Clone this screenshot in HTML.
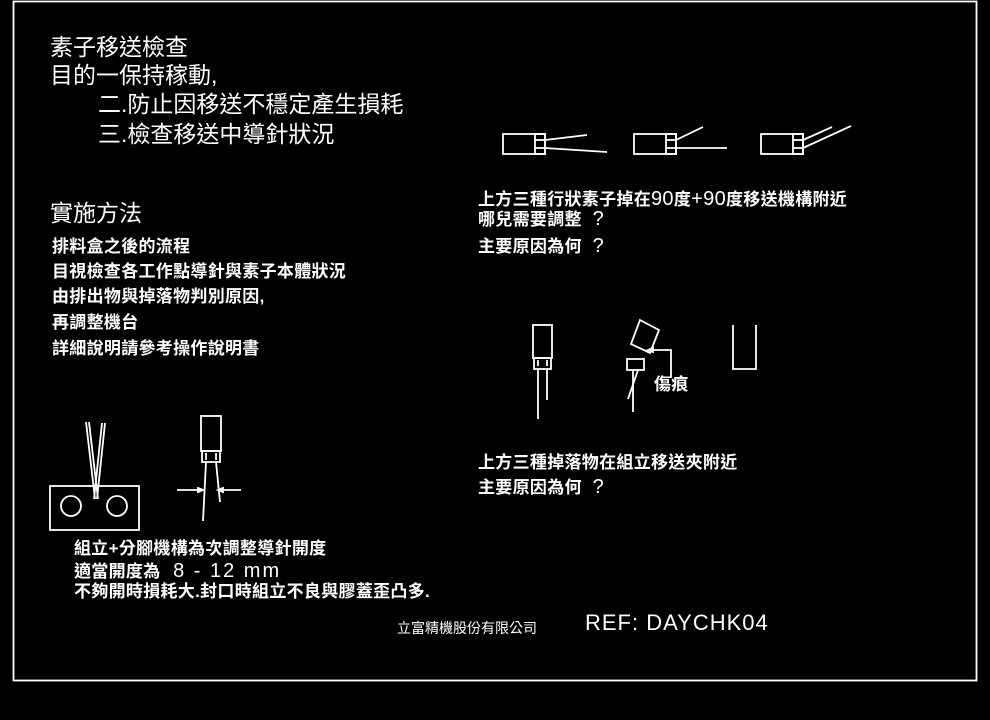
<!DOCTYPE html>
<html><head><meta charset="utf-8"><style>
html,body{margin:0;padding:0;background:#000;}
body{width:990px;height:720px;position:relative;overflow:hidden;font-family:"Liberation Sans","Noto Sans CJK TC","WenQuanYi Zen Hei",sans-serif;color:#fff;}
.t{position:absolute;white-space:nowrap;line-height:1;}
.b{font-size:23px;}
.s{font-size:17px;font-weight:bold;letter-spacing:0.3px;}
.n{font-weight:normal;font-size:20px;}
</style></head><body>
<svg width="990" height="720" style="position:absolute;left:0;top:0" fill="none" stroke="#fff" stroke-width="1.8">
<rect x="13.5" y="1.5" width="963" height="679"/>
<g>
<rect x="503" y="134" width="42" height="20"/><rect x="535" y="134" width="10" height="20"/>
<line x1="535" y1="140" x2="545" y2="140"/><line x1="535" y1="148" x2="545" y2="148"/>
<line x1="545" y1="140" x2="587" y2="135"/><line x1="545" y1="148" x2="607" y2="152"/>
<rect x="634" y="134" width="42" height="20"/><rect x="666" y="134" width="10" height="20"/>
<line x1="666" y1="140" x2="676" y2="140"/><line x1="666" y1="148" x2="676" y2="148"/>
<line x1="676" y1="140" x2="703" y2="127"/><line x1="676" y1="148" x2="727" y2="148"/>
<rect x="761" y="134" width="42" height="20"/><rect x="793" y="134" width="10" height="20"/>
<line x1="793" y1="140" x2="803" y2="140"/><line x1="793" y1="148" x2="803" y2="148"/>
<line x1="803" y1="140" x2="832" y2="127"/><line x1="803" y1="148" x2="851" y2="126"/>
</g>
<rect x="533" y="325" width="19" height="33"/><rect x="534" y="358" width="17" height="11"/>
<line x1="538" y1="360" x2="538" y2="366"/><line x1="547" y1="360" x2="547" y2="366"/>
<line x1="538" y1="369" x2="538" y2="419"/><line x1="547" y1="369" x2="547" y2="400"/>
<polygon points="640,320 659,330 650,353 631,344"/>
<rect x="627" y="359" width="17" height="11"/>
<line x1="638" y1="370" x2="628" y2="399"/><line x1="633" y1="370" x2="633" y2="412"/>
<polyline points="648,350 671,350 671,378"/>
<path d="M648,350 l5,-2 v4z" fill="#fff"/>
<polyline points="733,325 733,369 756,369 756,325"/>
<rect x="50" y="486" width="89" height="44"/>
<circle cx="71" cy="506" r="10"/><circle cx="117" cy="506" r="10"/>
<line x1="86" y1="422" x2="95" y2="499"/><line x1="89" y1="422" x2="98" y2="499"/>
<line x1="102" y1="423" x2="94" y2="499"/><line x1="105" y1="423" x2="97" y2="499"/>
<rect x="201" y="416" width="20" height="35"/><rect x="202" y="451" width="18" height="11"/>
<line x1="206" y1="453" x2="206" y2="460"/><line x1="216" y1="453" x2="216" y2="460"/>
<line x1="206" y1="462" x2="203" y2="521"/><line x1="216" y1="462" x2="220" y2="502"/>
<line x1="177" y1="490" x2="203" y2="490"/><line x1="218" y1="490" x2="241" y2="490"/>
<path d="M203,490 l-5,-2 v4z M218,490 l5,-2 v4z" fill="#fff"/>
</svg>
<div class="t b" style="left:50px;top:36px">素子移送檢查</div>
<div class="t b" style="left:50px;top:64px">目的一保持稼動,</div>
<div class="t b" style="left:98px;top:93px">二.防止因移送不穩定產生損耗</div>
<div class="t b" style="left:98px;top:123px">三.檢查移送中導針狀況</div>
<div class="t b" style="left:50px;top:202px">實施方法</div>
<div class="t s" style="left:52px;top:238px">排料盒之後的流程</div>
<div class="t s" style="left:52px;top:263px">目視檢查各工作點導針與素子本體狀況</div>
<div class="t s" style="left:52px;top:288px">由排出物與掉落物判別原因,</div>
<div class="t s" style="left:52px;top:314px">再調整機台</div>
<div class="t s" style="left:52px;top:340px">詳細說明請參考操作說明書</div>
<div class="t s" style="left:478px;top:189px">上方三種行狀素子掉在<span class="n">90</span>度<span class="n">+90</span>度移送機構附近</div>
<div class="t s" style="left:478px;top:209px">哪兒需要調整 <span class="n">&nbsp;?</span></div>
<div class="t s" style="left:478px;top:236px">主要原因為何 <span class="n">&nbsp;?</span></div>
<div class="t s" style="left:654px;top:376px">傷痕</div>
<div class="t s" style="left:478px;top:454px">上方三種掉落物在組立移送夾附近</div>
<div class="t s" style="left:478px;top:477px">主要原因為何 <span class="n">&nbsp;?</span></div>
<div class="t s" style="left:74px;top:540px">組立+分腳機構為次調整導針開度</div>
<div class="t s" style="left:74px;top:561px">適當開度為 <span class="n" style="letter-spacing:2px">&nbsp;8 - 12 mm</span></div>
<div class="t s" style="left:74px;top:583px">不夠開時損耗大.封口時組立不良與膠蓋歪凸多.</div>
<div class="t" style="left:397px;top:621px;font-size:14px">立富精機股份有限公司</div>
<div class="t" style="left:585px;top:612px;font-size:22px;letter-spacing:1px">REF: DAYCHK04</div>
</body></html>
